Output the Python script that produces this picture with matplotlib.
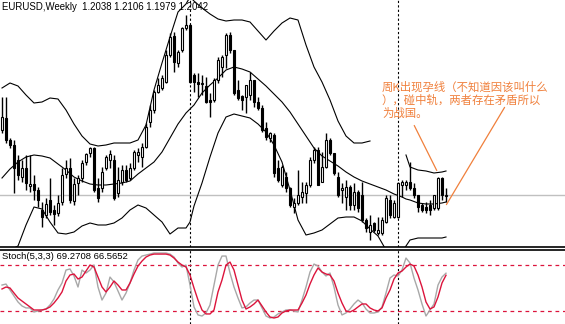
import matplotlib
matplotlib.use('Agg')
import matplotlib.pyplot as plt
import numpy as np

# EURUSD weekly candles
opens = [1.263, 1.2738, 1.254, 1.2495, 1.236, 1.2207, 1.2288, 1.2126, 1.2144, 1.209,
         1.191, 1.1865, 1.2, 1.191, 1.1883, 1.1982, 1.2234, 1.2288, 1.1991, 1.2153,
         1.2198, 1.2342, 1.2423, 1.2468, 1.2108, 1.2108, 1.2288, 1.236, 1.236, 1.2063,
         1.2162, 1.227, 1.2198, 1.2288, 1.2405, 1.2387, 1.2477, 1.2702, 1.281, 1.2972,
         1.3008, 1.3062, 1.3305, 1.3476, 1.3233, 1.335, 1.3548, 1.3575, 1.3125, 1.3062,
         1.3044, 1.3026, 1.29, 1.29, 1.308, 1.3197, 1.3305, 1.3485, 1.335, 1.299,
         1.2936, 1.2927, 1.2945, 1.308, 1.2882, 1.2828, 1.2648, 1.2558, 1.2585, 1.2288,
         1.2135, 1.2207, 1.2108, 1.1937, 1.1973, 1.2027, 1.2063, 1.2135, 1.236, 1.245,
         1.2162, 1.2297, 1.254, 1.2423, 1.2207, 1.209, 1.2027, 1.2117, 1.1955, 1.2072,
         1.2045, 1.182, 1.1712, 1.1793, 1.1703, 1.1703, 1.1802, 1.2, 1.1847, 1.1847,
         1.2135, 1.2135, 1.2162, 1.2108, 1.2045, 1.1955, 1.1937, 1.1955, 1.1928, 1.1928,
         1.2198, 1.2038]
highs = [1.2927, 1.2927, 1.2558, 1.254, 1.2405, 1.236, 1.2405, 1.2405, 1.2225, 1.2117,
         1.1982, 1.2018, 1.2198, 1.1955, 1.2045, 1.2288, 1.236, 1.2378, 1.2198, 1.2225,
         1.236, 1.2423, 1.2477, 1.2477, 1.2198, 1.2297, 1.2405, 1.245, 1.2405, 1.2297,
         1.2315, 1.2315, 1.2333, 1.245, 1.2468, 1.2513, 1.2693, 1.2855, 1.299, 1.3098,
         1.3125, 1.335, 1.3503, 1.3512, 1.335, 1.3557, 1.3665, 1.3584, 1.3143, 1.3143,
         1.3125, 1.3107, 1.2963, 1.3098, 1.3287, 1.3305, 1.3503, 1.3512, 1.335, 1.308,
         1.2945, 1.3035, 1.3152, 1.308, 1.2927, 1.2855, 1.2702, 1.2612, 1.2603, 1.236,
         1.2315, 1.2252, 1.2117, 1.2018, 1.227, 1.2162, 1.2162, 1.2387, 1.2477, 1.2477,
         1.2432, 1.2603, 1.2558, 1.2423, 1.2252, 1.2153, 1.218, 1.2135, 1.2153, 1.209,
         1.2162, 1.1838, 1.1865, 1.1802, 1.1847, 1.1847, 1.2045, 1.2045, 1.2, 1.2162,
         1.218, 1.218, 1.2342, 1.2153, 1.2045, 1.1973, 1.1982, 1.2, 1.2045, 1.2207,
         1.2207, 1.2106]
lows = [1.2603, 1.2513, 1.2468, 1.2063, 1.218, 1.2162, 1.209, 1.2072, 1.2, 1.1937,
        1.1757, 1.1838, 1.1865, 1.1775, 1.1856, 1.1955, 1.2198, 1.1973, 1.1955, 1.2045,
        1.2162, 1.2315, 1.2387, 1.2072, 1.1982, 1.2072, 1.227, 1.2288, 1.2, 1.2027,
        1.2135, 1.2162, 1.218, 1.227, 1.2342, 1.2297, 1.2468, 1.2657, 1.2783, 1.2963,
        1.299, 1.3053, 1.3287, 1.3152, 1.3197, 1.3332, 1.353, 1.3053, 1.2972, 1.2927,
        1.2945, 1.2873, 1.2747, 1.2882, 1.3053, 1.3107, 1.3188, 1.3323, 1.2945, 1.29,
        1.281, 1.2783, 1.29, 1.2837, 1.281, 1.2612, 1.254, 1.2522, 1.2207, 1.2162,
        1.2117, 1.2072, 1.1937, 1.1883, 1.1955, 1.1973, 1.1973, 1.2117, 1.2333, 1.2135,
        1.2162, 1.2288, 1.2405, 1.2225, 1.2027, 1.1973, 1.191, 1.191, 1.191, 1.1892,
        1.1802, 1.1712, 1.164, 1.1712, 1.1685, 1.1685, 1.1793, 1.1838, 1.1838, 1.1838,
        1.2027, 1.209, 1.209, 1.2018, 1.1892, 1.1892, 1.1883, 1.1865, 1.191, 1.191,
        1.2, 1.1979]
closes = [1.2747, 1.254, 1.2495, 1.2288, 1.2225, 1.2288, 1.2153, 1.2144, 1.209, 1.2,
          1.1847, 1.1964, 1.1892, 1.1874, 1.1973, 1.2225, 1.2288, 1.2, 1.2144, 1.2198,
          1.2333, 1.2414, 1.2468, 1.209, 1.2018, 1.2252, 1.2387, 1.2414, 1.2018, 1.218,
          1.227, 1.218, 1.2288, 1.2432, 1.2432, 1.2477, 1.2657, 1.281, 1.2972, 1.3035,
          1.3098, 1.3305, 1.3467, 1.3242, 1.3332, 1.3548, 1.3575, 1.3062, 1.3062, 1.3044,
          1.3053, 1.2882, 1.2882, 1.308, 1.326, 1.3287, 1.3485, 1.335, 1.2963, 1.2918,
          1.29, 1.3035, 1.308, 1.2882, 1.2828, 1.263, 1.2567, 1.2603, 1.2243, 1.218,
          1.2297, 1.2108, 1.1955, 1.1973, 1.2045, 1.2072, 1.2135, 1.236, 1.245, 1.2135,
          1.2297, 1.254, 1.2423, 1.2243, 1.2045, 1.2108, 1.2117, 1.1955, 1.2072, 1.1928,
          1.182, 1.1748, 1.1775, 1.173, 1.173, 1.182, 1.2018, 1.1865, 1.1973, 1.2153,
          1.2162, 1.2162, 1.2108, 1.2045, 1.1937, 1.191, 1.191, 1.191, 1.2045, 1.2198,
          1.2045, 1.2042]

# Bollinger bands, sampled every other week
band_idx = [0, 2, 4, 6, 8, 10, 12, 14, 16, 18, 20, 22, 24, 26, 28, 30, 32, 34, 36, 38,
            40, 42, 44, 46, 47, 48, 50, 52, 54, 56, 58, 60, 62, 64, 66, 68, 70, 72, 74, 76,
            78, 80, 82, 84, 86, 88, 90, 92, 94, 96, 98, 100, 101, 102, 104, 106, 108, 110, 111]
band_up = [1.3008, 1.3053, 1.3026, 1.2945, 1.2873, 1.2882, 1.2918, 1.2909, 1.281, 1.2684,
           1.2576, 1.2504, 1.2486, 1.2495, 1.2513, 1.2513, 1.2513, 1.254, 1.2675, 1.299,
           1.3233, 1.3467, 1.3692, 1.3764, 1.3827, 1.3791, 1.3728, 1.3674, 1.3629, 1.3611,
           1.362, 1.362, 1.3602, 1.3521, 1.344, 1.3521, 1.3593, 1.3638, 1.362, 1.3395,
           1.3197, 1.3062, 1.29, 1.2711, 1.2576, 1.2513, 1.2513, 1.2531, np.nan, np.nan,
           np.nan, np.nan, 1.2405, 1.2297, 1.227, 1.2261, 1.2243, 1.2252, 1.2261]
band_mid = [1.2198, 1.2279, 1.2342, 1.2387, 1.2405, 1.2396, 1.2378, 1.2324, 1.227, 1.2207,
            1.2171, 1.2144, 1.2135, 1.2135, 1.2144, 1.2153, 1.2171, 1.2234, 1.2288, 1.2342,
            1.2432, 1.2558, 1.2684, 1.2783, 1.2819, 1.2855, 1.2963, 1.3035, 1.3098, 1.317,
            1.3197, 1.3179, 1.3152, 1.3089, 1.3026, 1.2954, 1.2882, 1.2792, 1.2684, 1.2576,
            1.2468, 1.2396, 1.2351, 1.2306, 1.2252, 1.2207, 1.2171, 1.2144, 1.2117, 1.209,
            1.2054, 1.2027, 1.2009, 1.2, 1.1973, 1.1964, 1.1964, 1.1973, 1.1982]
band_low = [1.1505, 1.155, 1.1586, 1.1775, 1.1937, 1.1919, 1.1802, 1.1703, 1.1694, 1.1712,
            1.1766, 1.1793, 1.1775, 1.1775, 1.1793, 1.1838, 1.191, 1.1955, 1.1928, 1.1865,
            1.1802, 1.1694, 1.1748, 1.1748, 1.1802, 1.1946, 1.2153, 1.2387, 1.2603, 1.2747,
            1.2774, 1.2756, 1.2738, 1.2684, 1.2612, 1.2495, 1.2342, 1.209, 1.182, 1.1685,
            1.1703, 1.173, 1.1784, 1.1838, 1.1847, 1.1847, 1.1811, 1.1739, 1.1676, 1.155,
            1.1505, 1.1532, 1.1586, 1.164, 1.1658, 1.1658, 1.1658, 1.1658, 1.1667]

# Stochastic(5,3,3): main line and signal line
stoch_k = [53.7, 55.0, 47.2, 39.3, 31.4, 26.2, 23.6, 23.6, 18.3, 19.6,
           20.9, 22.2, 27.5, 35.4, 47.2, 56.4, 73.4, 74.8, 65.6, 51.1,
           73.4, 69.5, 73.4, 80.0, 51.1, 34.0, 43.2, 64.2, 57.7, 45.9,
           34.0, 43.2, 56.4, 73.4, 86.6, 91.8, 93.1, 94.4, 95.8, 95.8,
           95.8, 95.8, 94.4, 90.5, 82.6, 77.4, 80.0, 53.7, 24.9, 14.4,
           13.0, 17.0, 27.5, 53.7, 80.0, 91.8, 91.8, 69.5, 51.1, 36.7,
           23.6, 24.9, 30.1, 34.0, 34.0, 23.6, 13.0, 10.4, 11.7, 15.7,
           18.3, 20.9, 20.9, 19.6, 18.3, 34.0, 51.1, 70.8, 81.3, 78.7,
           70.8, 65.6, 69.5, 51.1, 27.5, 14.4, 17.0, 22.2, 28.8, 34.0,
           30.1, 22.2, 17.0, 17.0, 18.3, 24.9, 43.2, 62.9, 66.9, 65.6,
           73.4, 89.2, 82.6, 62.9, 47.2, 28.8, 13.0, 20.9, 28.8, 53.7,
           64.2, 69.2708]
stoch_d = [48.5, 51.1, 49.8, 43.2, 36.7, 32.7, 28.8, 24.9, 20.9, 20.9,
           20.9, 22.2, 24.9, 30.1, 36.7, 44.6, 59.0, 66.9, 68.2, 61.6,
           64.2, 72.1, 80.0, 77.4, 64.2, 51.1, 44.6, 51.1, 59.0, 53.7,
           47.2, 47.2, 56.4, 68.2, 78.7, 85.2, 90.5, 93.1, 94.4, 94.4,
           94.4, 94.4, 93.1, 89.2, 83.9, 80.0, 77.4, 66.9, 49.8, 34.0,
           20.9, 15.7, 15.7, 20.9, 44.6, 60.3, 80.0, 83.9, 73.4, 53.7,
           34.0, 22.2, 24.9, 28.8, 34.0, 26.2, 18.3, 11.7, 10.4, 11.7,
           17.0, 19.6, 20.9, 20.9, 20.9, 30.1, 40.6, 55.0, 66.9, 76.1,
           70.8, 68.2, 66.9, 59.0, 43.2, 30.1, 19.6, 18.3, 20.9, 24.9,
           28.8, 28.8, 23.6, 20.9, 19.6, 23.6, 36.7, 47.2, 61.6, 69.5,
           72.1, 77.4, 81.3, 78.7, 66.9, 51.1, 31.4, 22.2, 24.9, 38.0,
           56.4, 66.5652]
stoch_levels = [80, 20]

year_starts = [47, 99]  # first week of 2005 and 2006

note = "周K出现孕线（不知道因该叫什么\n），碰中轨，两者存在矛盾所以\n为战国。"
orange = '#F0803C'
red = '#DC143C'

o = np.array(opens); h = np.array(highs); l = np.array(lows); c = np.array(closes)
idx = np.arange(len(c))
up = c >= o

fig = plt.figure(figsize=(5.65, 3.24), dpi=100)
ax = fig.add_axes([0, 77 / 324, 1, 247 / 324])
ax2 = fig.add_axes([0, 0, 1, 74.5 / 324])

# price panel
ax.axhline(c[-1], color='#C0C0C0', lw=1, zorder=1)
ax.vlines(idx, l, h, color='black', lw=1, zorder=2)
ax.bar(idx[up], (c - o)[up], bottom=o[up], width=0.45, color='white',
       edgecolor='black', lw=0.8, zorder=3)
ax.bar(idx[~up], (o - c)[~up], bottom=c[~up], width=0.45, color='black',
       edgecolor='black', lw=0.8, zorder=3)
for band in (band_up, band_mid, band_low):
    ax.plot(band_idx, band, color='black', lw=0.8, zorder=2)
for ys in year_starts:
    ax.axvline(ys, color='black', lw=0.8, ls=(0, (2, 2)), zorder=1)
    ax2.axvline(ys, color='black', lw=0.8, ls=(0, (2, 2)), zorder=1)

ax.set_xlim(-0.5, 140.75)
ax.set_ylim(1.1577, 1.38)
ax.text(0.004, 0.993, f"EURUSD,Weekly  {o[-1]:.4f} {h[-1]:.4f} {l[-1]:.4f} {c[-1]:.4f}",
        transform=ax.transAxes, va='top', ha='left', fontsize=6.9,
        family='Liberation Sans', color='black')

# annotation
ax.text(0.676, 0.672, note, transform=ax.transAxes, va='top', ha='left',
        fontsize=8.2, color=orange, linespacing=1.25,
        family=['Noto Sans CJK SC', 'DejaVu Sans'])
ax.annotate('', xy=(109, 1.2243), xytext=(102.75, 1.2693),
            arrowprops=dict(arrowstyle='-', color=orange, lw=0.9))
ax.annotate('', xy=(110.75, 1.1937), xytext=(126, 1.2855),
            arrowprops=dict(arrowstyle='-', color=orange, lw=0.9))

# stochastic panel
for lv in stoch_levels:
    ax2.axhline(lv, color=red, lw=0.9, ls=(0, (3, 3)), zorder=1)
ax2.plot(idx, stoch_k, color='#A8A8A8', lw=1, zorder=2)
ax2.plot(idx, stoch_d, color=red, lw=1, zorder=3)
ax2.set_xlim(-0.5, 140.75)
ax2.set_ylim(2.5, 100.4)
ax2.text(0.004, 0.96, f"Stoch(5,3,3) {stoch_k[-1]:.4f} {stoch_d[-1]:.4f}",
         transform=ax2.transAxes, va='top', ha='left', fontsize=6.8,
         family='Liberation Sans', color='black', zorder=4)

for a in (ax, ax2):
    a.set_xticks([])
    a.set_yticks([])
    for s in a.spines.values():
        s.set_visible(False)
ax.spines['bottom'].set_visible(True)
ax.spines['bottom'].set_linewidth(1.2)
ax2.spines['top'].set_visible(True)
ax2.spines['top'].set_linewidth(1.2)

fig.savefig('out.png', dpi=100)
